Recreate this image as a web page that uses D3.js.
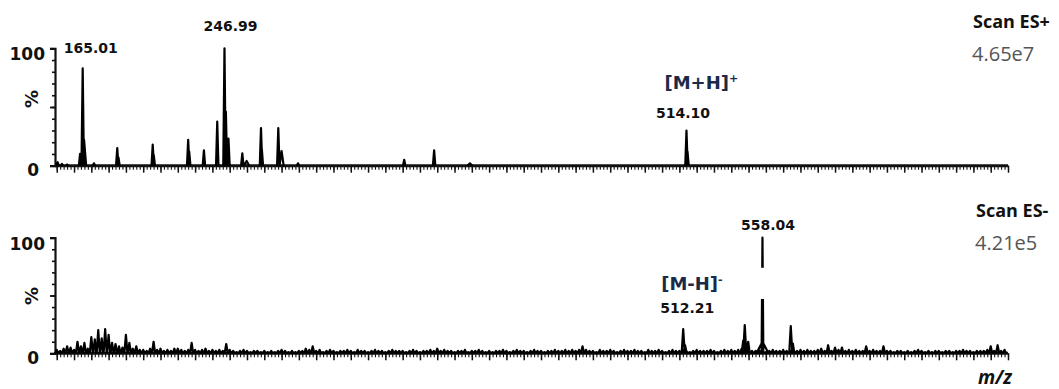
<!DOCTYPE html>
<html>
<head>
<meta charset="utf-8">
<script src="https://cdn.jsdelivr.net/npm/d3@7"></script>
<style>
  body { margin: 0; background: #fff; }
  svg { display: block; }
  .lbl { font-family: "DejaVu Sans", Verdana, sans-serif; font-weight: bold; fill: #111; }
  .scan { font-family: "Open Sans", "DejaVu Sans", sans-serif; }
</style>
</head>
<body>
<svg id="chart" width="1059" height="389"></svg>
<script>
// m/z window shared by both traces
const mzDomain = [149, 700];

// ES+ trace: [m/z, relative intensity %, optional half-width in m/z]
const esPosPeaks = [
  [150.5, 3], [153, 1.5], [156, 1], [163.5, 10], [165.01, 83], [165.8, 22, 1.2],
  [171.5, 2], [185.0, 15], [185.7, 7], [205.5, 18], [206.1, 9], [226.0, 22],
  [226.6, 12], [235.1, 13], [242.8, 37.5], [246.99, 100], [247.8, 46],
  [249.3, 23], [257.3, 10.5], [259.8, 4, 1.5], [268.1, 32], [268.6, 14],
  [278.1, 32], [280.0, 12.5, 1.2], [289.5, 2], [350.9, 5], [368.2, 13],
  [388.9, 2, 1.5], [514.10, 30], [514.7, 12]
];

// ES- trace: background noise sampled every 2 m/z from 150
const esNegNoiseStart = 150;
const esNegNoiseStep = 2;
const esNegNoise = [
  3, 2, 4, 6, 5, 3, 10, 6, 9, 4, 14, 12, 20, 13, 21, 16, 9, 8, 6, 5, 16, 9, 4, 6, 3,
  3, 2, 4, 10, 3, 4, 2, 3, 2, 4, 4, 3, 2, 3, 9, 3, 2, 3, 4, 2, 3, 2, 3, 2, 8,
  3, 2, 1, 2, 3, 2, 1, 2, 2, 1, 2, 1, 2, 1, 2, 3, 2, 1, 2, 1, 2, 2, 4, 3, 6,
  2, 3, 1, 2, 3, 2, 1, 2, 2, 3, 2, 1, 3, 2, 2, 1, 2, 3, 2, 2, 1, 2, 3, 2, 2,
  2, 1, 2, 3, 2, 1, 2, 2, 3, 2, 4, 2, 3, 2, 2, 1, 2, 2, 3, 1, 2, 2, 3, 2, 1,
  2, 1, 2, 2, 3, 2, 1, 2, 3, 2, 2, 1, 2, 3, 2, 2, 1, 2, 2, 3, 2, 2, 3, 2, 3,
  2, 3, 6, 3, 2, 2, 1, 3, 2, 2, 3, 2, 1, 2, 3, 2, 2, 3, 2, 2, 1, 3, 2, 2, 3,
  2, 1, 2, 3, 2, 2, 3, 2, 1, 2, 3, 2, 2, 2, 3, 2, 1, 2, 3, 2, 3, 2, 3, 4, 3,
  3, 2, 2, 3, 2, 1, 2, 3, 2, 2, 3, 2, 2, 3, 2, 3, 2, 3, 2, 2, 3, 4, 2, 7, 2,
  5, 3, 5, 2, 3, 2, 3, 2, 2, 6, 2, 3, 2, 2, 6, 2, 2, 1, 2, 2, 1, 2, 1, 2, 3,
  2, 1, 2, 1, 2, 2, 1, 2, 2, 1, 2, 2, 3, 2, 2, 1, 2, 2, 2, 3, 6, 2, 7, 2, 3
];
// ES- signals: [m/z, relative intensity %, optional half-width in m/z]
const esNegPeaks = [
  [512.21, 21], [513.3, 7], [546.9, 11], [547.8, 24.5], [549.8, 10],
  [558.04, 10, 3.5], [558.04, 100, 0.5], [574.4, 23.6], [575.6, 8.5]
];
// interrupted section of the 558.04 stick: [m/z, from %, to %]
const esNegBreak = [558.04, 47, 74];

// axis ticks
const yMinorTicks = d3.range(0, 101, 10);
const yMajorTicks = [0, 50, 100];
const yTickLabels = [0, 100];
const xMajorTicks = d3.range(150, 701, 10);
const xMinorTicks = d3.range(150, 701, 2);

// annotations
const posPeakLabels = [
  { mz: 165.01, h: 83, text: "165.01" },
  { mz: 246.99, h: 100, text: "246.99" },
  { mz: 514.10, h: 30, text: "514.10" }
];
const negPeakLabels = [
  { mz: 512.21, h: 21, text: "512.21" },
  { mz: 558.04, h: 100, text: "558.04" }
];
const posIon = { mz: 514.10, base: "[M+H]", charge: "+" };
const negIon = { mz: 512.21, base: "[M-H]", charge: "-" };
const posScan = { title: "Scan ES+", tic: "4.65e7" };
const negScan = { title: "Scan ES-", tic: "4.21e5" };
const xTitle = "m/z";

const svg = d3.select("#chart");
const x = d3.scaleLinear().domain(mzDomain).range([55, 1008]);

const yTop = d3.scaleLinear().domain([0, 100]).range([165.7, 48.3]);
const yBot = d3.scaleLinear().domain([0, 100]).range([353.3, 237.7]);

function spikePath(y, spikes, defaultW) {
  const p = d3.path();
  spikes.forEach(([mz, h, w]) => {
    const hw = w || defaultW;
    p.moveTo(x(mz - hw), y(0));
    p.lineTo(x(mz), y(h));
    p.lineTo(x(mz + hw), y(0));
  });
  return p.toString();
}

function drawAxes(y) {
  const g = svg.append("g");
  // x ticks below the baseline
  g.append("g").attr("transform", `translate(0,${y(0)})`)
    .call(d3.axisBottom(x).tickValues(xMinorTicks).tickSize(4).tickSizeOuter(0).tickFormat(""))
    .call(a => a.select(".domain").remove())
    .call(a => a.selectAll("line").attr("stroke", "#111").attr("stroke-width", 1.1));
  g.append("g").attr("transform", `translate(0,${y(0)})`)
    .call(d3.axisBottom(x).tickValues(xMajorTicks).tickSize(7).tickSizeOuter(0).tickFormat(""))
    .call(a => a.select(".domain").remove())
    .call(a => a.selectAll("line").attr("stroke", "#111").attr("stroke-width", 1.5));
  // baseline
  g.append("line")
    .attr("x1", x(mzDomain[0])).attr("x2", x(mzDomain[1]))
    .attr("y1", y(0)).attr("y2", y(0))
    .attr("stroke", "#111").attr("stroke-width", 3);
  // y axis
  g.append("g").attr("transform", `translate(${x(mzDomain[0])},0)`)
    .call(d3.axisLeft(y).tickValues(yMinorTicks).tickSize(3).tickSizeOuter(5).tickFormat(""))
    .call(a => a.select(".domain").attr("stroke", "#111").attr("stroke-width", 2.2))
    .call(a => a.selectAll("line").attr("stroke", "#111").attr("stroke-width", 1.6));
  g.append("g").attr("transform", `translate(${x(mzDomain[0])},0)`)
    .call(d3.axisLeft(y).tickValues(yMajorTicks).tickSize(5).tickSizeOuter(0).tickFormat(""))
    .call(a => a.select(".domain").remove())
    .call(a => a.selectAll("line").attr("stroke", "#111").attr("stroke-width", 1.8));
  g.selectAll("text.ylab").data(yTickLabels).join("text")
    .attr("class", "lbl ylab")
    .attr("x", d => d === 0 ? 39 : 45)
    .attr("y", d => y(d) + (d === 0 ? 5.5 : 7))
    .attr("dominant-baseline", "middle")
    .attr("text-anchor", "end")
    .style("font-size", "17px")
    .text(d => d);
}

function drawTrace(y, spikes, w, sw) {
  svg.append("path")
    .attr("d", spikePath(y, spikes, w))
    .attr("fill", "none")
    .attr("stroke", "#000")
    .attr("stroke-width", sw)
    .attr("stroke-linejoin", "round");
}

function drawPercent(y, dy) {
  svg.append("text")
    .attr("class", "lbl")
    .attr("transform", `translate(33,${y(50) + dy}) rotate(-90)`)
    .attr("text-anchor", "middle")
    .attr("dominant-baseline", "middle")
    .style("font-size", "18px")
    .text("%");
}

function drawIon(ion, y, baseY) {
  const t = svg.append("text")
    .attr("class", "lbl")
    .attr("x", x(ion.mz) - 22)
    .attr("y", baseY)
    .style("font-size", "18px")
    .style("fill", "#1b2a48");
  t.append("tspan").text(ion.base);
  t.append("tspan").attr("dy", -7).style("font-size", "11px").text(ion.charge);
}

function drawScan(s, x0, y0) {
  svg.append("text").attr("class", "scan")
    .attr("x", x0).attr("y", y0)
    .style("font-size", "18px").style("font-weight", "bold").style("fill", "#111")
    .text(s.title);
  svg.append("text").attr("class", "scan")
    .attr("x", x0 - 1).attr("y", y0 + 33)
    .style("font-size", "20px").style("fill", "#555")
    .text(s.tic);
}

// ---- ES+ panel ----
drawAxes(yTop);
drawTrace(yTop, esPosPeaks, 0.7, 2.2);
drawPercent(yTop, -8);
svg.selectAll("text.ppos").data(posPeakLabels).join("text")
  .attr("class", "lbl ppos")
  .attr("x", d => x(d.mz) + (d.text === "165.01" ? 8 : d.text === "246.99" ? 6 : -3.5))
  .attr("y", d => yTop(d.h) - (d.text === "165.01" ? 15 : d.text === "246.99" ? 17 : 12))
  .attr("text-anchor", "middle")
  .style("font-size", "14px")
  .text(d => d.text);
drawIon(posIon, yTop, 89);
drawScan(posScan, 973, 28);

// ---- ES- panel ----
const negSpikes = esNegNoise.map((v, i) => [esNegNoiseStart + i * esNegNoiseStep, v])
  .concat(esNegPeaks);
drawAxes(yBot);
drawTrace(yBot, negSpikes, 0.9, 2.2);
// gap in the tall 558.04 stick
svg.append("rect")
  .attr("x", x(esNegBreak[0]) - 4)
  .attr("width", 8)
  .attr("y", yBot(esNegBreak[2]))
  .attr("height", yBot(esNegBreak[1]) - yBot(esNegBreak[2]))
  .attr("fill", "#fff");
drawPercent(yBot, 0.5);
svg.selectAll("text.pneg").data(negPeakLabels).join("text")
  .attr("class", "lbl pneg")
  .attr("x", d => x(d.mz) + (d.text === "512.21" ? 4 : 5.5))
  .attr("y", d => yBot(d.h) - (d.text === "512.21" ? 16 : 8))
  .attr("text-anchor", "middle")
  .style("font-size", "14px")
  .text(d => d.text);
drawIon(negIon, yBot, 290);
drawScan(negScan, 976, 217);

// x-axis title
svg.append("text").attr("class", "scan")
  .attr("x", 978).attr("y", 384)
  .style("font-size", "19px").style("font-weight", "bold").style("font-style", "italic")
  .style("fill", "#111")
  .text(xTitle);
</script>
</body>
</html>
